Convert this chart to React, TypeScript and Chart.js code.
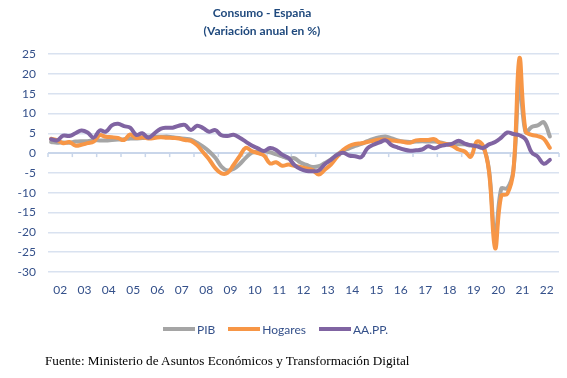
import React, { useEffect, useRef } from 'react';
import { Chart, registerables } from 'chart.js';

Chart.register(...registerables);

// Year tick labels (one per year, shown centred in each year)
const yearLabels = ['02', '03', '04', '05', '06', '07', '08', '09', '10', '11', '12', '13', '14', '15', '16', '17', '18', '19', '20', '21', '22'];
const quarterNames = ['T1', 'T2', 'T3', 'T4'];
// Quarterly categories 2002-T1 ... 2022-T4
const categories = yearLabels.flatMap((y) => quarterNames.map((q) => `20${y}-${q}`));

// PIB (variación anual %) 2002-T1 .. 2022-T3
const pib = [
  2.8, 2.6, 2.7, 2.6,
  2.9, 3.0, 3.0, 3.2,
  3.2, 3.2, 3.3, 3.4,
  3.5, 3.7, 3.7, 3.8,
  4.1, 4.1, 4.1, 4.2,
  4.0, 3.8, 3.6, 3.4,
  2.6, 1.6, 0.4, -1.2,
  -3.4, -4.4, -4.0, -2.8,
  -1.2, 0.1, 0.3, 0.5,
  0.2, -0.3, -0.8, -1.4,
  -1.3, -2.4, -3.0, -3.5,
  -3.3, -2.5, -1.6, -0.4,
  0.6, 1.2, 1.8, 2.3,
  3.0, 3.6, 4.0, 4.2,
  3.7, 3.2, 2.9, 2.8,
  2.9, 3.0, 2.9, 2.9,
  2.7, 2.3, 2.2, 2.2,
  2.2, 1.9, 1.8, 1.7,
  -4.3, -21.5, -9.0, -8.9,
  -4.3, 17.7, 5.3, 6.6,
  7.0, 7.8, 4.2,
];

// Consumo de los hogares
const hogares = [
  3.6, 3.3, 2.5, 2.8,
  1.9, 2.1, 2.5, 2.9,
  4.5, 4.1, 4.0, 3.8,
  3.3, 4.7, 3.8, 4.0,
  3.7, 3.8, 4.0, 3.9,
  3.8, 3.7, 3.3, 3.1,
  2.0, 0.2, -1.6, -3.8,
  -5.1, -5.0, -3.0, -0.8,
  1.3, 0.5, 0.0, -0.6,
  -2.6, -2.3, -3.2, -2.9,
  -3.2, -3.5, -3.9, -4.3,
  -5.4, -4.2, -2.9, -1.0,
  0.8, 1.8, 2.3, 2.5,
  2.8, 3.1, 3.4, 3.4,
  3.2, 3.0, 2.8, 2.6,
  3.2, 3.3, 3.3, 3.5,
  2.5, 2.3, 1.8, 0.9,
  0.4, -0.9, 2.9, 1.9,
  -4.8, -24.0, -10.8, -10.3,
  -4.5, 24.0, 5.5, 4.6,
  4.3, 3.6, 1.3,
];

// Consumo de las AA.PP.
const aapp = [
  3.5, 3.2, 4.4, 4.3,
  5.0, 5.7, 5.2, 3.9,
  5.7, 5.4, 7.0, 7.4,
  6.8, 6.4, 4.6, 5.0,
  3.9, 5.0, 6.1, 6.4,
  6.4, 6.9, 7.1, 5.8,
  6.9, 6.3, 5.4, 5.8,
  4.5, 4.3, 4.6, 3.9,
  2.9, 1.9, 1.2, 0.5,
  1.3, 0.8, -0.4, -1.2,
  -3.0, -4.0, -4.5, -4.6,
  -4.4, -2.8, -1.7, -0.5,
  0.1, -0.6, -0.8, -1.0,
  1.2, 2.1, 2.7, 3.2,
  2.0, 1.4, 0.9, 0.6,
  0.7, 0.9, 1.7, 1.2,
  1.8, 2.1, 2.4, 3.1,
  2.4, 2.0, 1.7, 1.3,
  2.2, 2.8, 3.9, 5.2,
  4.8, 4.5, 3.5, 0.2,
  -0.9, -2.7, -1.7,
];

const seriesNames = ['PIB', 'Hogares', 'AA.PP.'];
const seriesColors = ['#A5A5A5', '#F79646', '#8064A2'];

const FONT = 'Lato, "Open Sans", sans-serif';
const TICK_COLOR = '#34508A';
const GRID_COLOR = '#D9E2F0';

const zeroTicks = {
  id: 'zeroTicks',
  beforeDatasetsDraw(chart: any) {
    const xs = chart.scales.x;
    const ys = chart.scales.y;
    const ctx = chart.ctx;
    const y0 = ys.getPixelForValue(0);
    const half = (xs.getPixelForValue(1) - xs.getPixelForValue(0)) / 2;
    ctx.save();
    ctx.strokeStyle = '#C9D6EA';
    ctx.lineWidth = 1.5;
    for (let i = 0; i <= categories.length; i += 4) {
      const px =
        i < categories.length
          ? xs.getPixelForValue(i) - half
          : xs.getPixelForValue(categories.length - 1) + half;
      ctx.beginPath();
      ctx.moveTo(px, y0);
      ctx.lineTo(px, y0 + 4);
      ctx.stroke();
    }
    ctx.restore();
  },
};

export default function App() {
  const ref = useRef<HTMLCanvasElement | null>(null);

  useEffect(() => {
    if (!ref.current) return;
    const data = [pib, hogares, aapp];
    const orders = [2, 1, 0];
    const chart = new Chart(ref.current, {
      type: 'line',
      data: {
        labels: categories,
        datasets: seriesNames.map((name, i) => ({
          label: name,
          data: data[i],
          borderColor: seriesColors[i],
          backgroundColor: seriesColors[i],
          borderWidth: 4,
          pointRadius: 0,
          pointHoverRadius: 0,
          tension: 0.4,
          fill: false,
          borderCapStyle: 'round' as const,
          borderJoinStyle: 'round' as const,
          order: orders[i],
        })),
      },
      options: {
        animation: false,
        responsive: false,
        maintainAspectRatio: false,
        layout: { padding: { top: 54, right: 4, bottom: 76, left: 0 } },
        plugins: {
          legend: { display: false },
          title: { display: false },
          tooltip: { enabled: false },
        },
        scales: {
          x: {
            type: 'category',
            offset: true,
            grid: { display: false, drawTicks: false },
            border: { display: false },
            ticks: {
              autoSkip: false,
              maxRotation: 0,
              minRotation: 0,
              padding: 11,
              labelOffset: 3,
              color: TICK_COLOR,
              font: { family: FONT, size: 12 },
              callback: (_v: any, index: number) =>
                index % 4 === 1 ? yearLabels[Math.floor(index / 4)] : '',
            },
            afterFit: (s: any) => {
              s.height = 30;
            },
          },
          y: {
            min: -30,
            max: 25,
            border: { display: false },
            grid: {
              color: (c: any) => (c.tick && c.tick.value === 0 ? '#C9D6EA' : GRID_COLOR),
              lineWidth: (c: any) => (c.tick && c.tick.value === 0 ? 2 : 1.5),
              drawTicks: false,
            },
            ticks: {
              stepSize: 5,
              padding: 12,
              color: TICK_COLOR,
              font: { family: FONT, size: 12 },
            },
            afterFit: (s: any) => {
              s.width = 48;
            },
          },
        },
      },
      plugins: [zeroTicks],
    });
    return () => chart.destroy();
  }, []);

  return (
    <div style={{ position: 'absolute', left: 0, top: 0, width: 567, height: 378, background: '#fff' }}>
      <canvas ref={ref} width={567} height={378} style={{ position: 'absolute', left: 0, top: 0 }} />
      <div
        style={{
          position: 'absolute',
          left: 0,
          top: 4,
          width: 524,
          textAlign: 'center',
          fontFamily: FONT,
          fontWeight: 700,
          fontSize: 12,
          lineHeight: '18px',
          color: '#1F497D',
        }}
      >
        <div>Consumo - España</div>
        <div>(Variación anual en %)</div>
      </div>
      <div
        style={{
          position: 'absolute',
          left: 163,
          top: 321,
          height: 16,
          display: 'flex',
          alignItems: 'center',
          fontFamily: FONT,
          fontSize: 12,
          color: TICK_COLOR,
        }}
      >
        {seriesNames.map((n, i) => (
          <div key={n} style={{ display: 'flex', alignItems: 'center', marginRight: 13 }}>
            <span style={{ display: 'inline-block', width: 32, height: 4, background: seriesColors[i], marginRight: 2 }} />
            <span>{n}</span>
          </div>
        ))}
      </div>
      <div
        style={{
          position: 'absolute',
          left: 45,
          top: 353,
          fontFamily: '"Liberation Serif", "Times New Roman", serif',
          fontSize: 13.2,
          lineHeight: '15px',
          color: '#000',
          whiteSpace: 'nowrap',
        }}
      >
        Fuente: Ministerio de Asuntos Económicos y Transformación Digital
      </div>
    </div>
  );
}
